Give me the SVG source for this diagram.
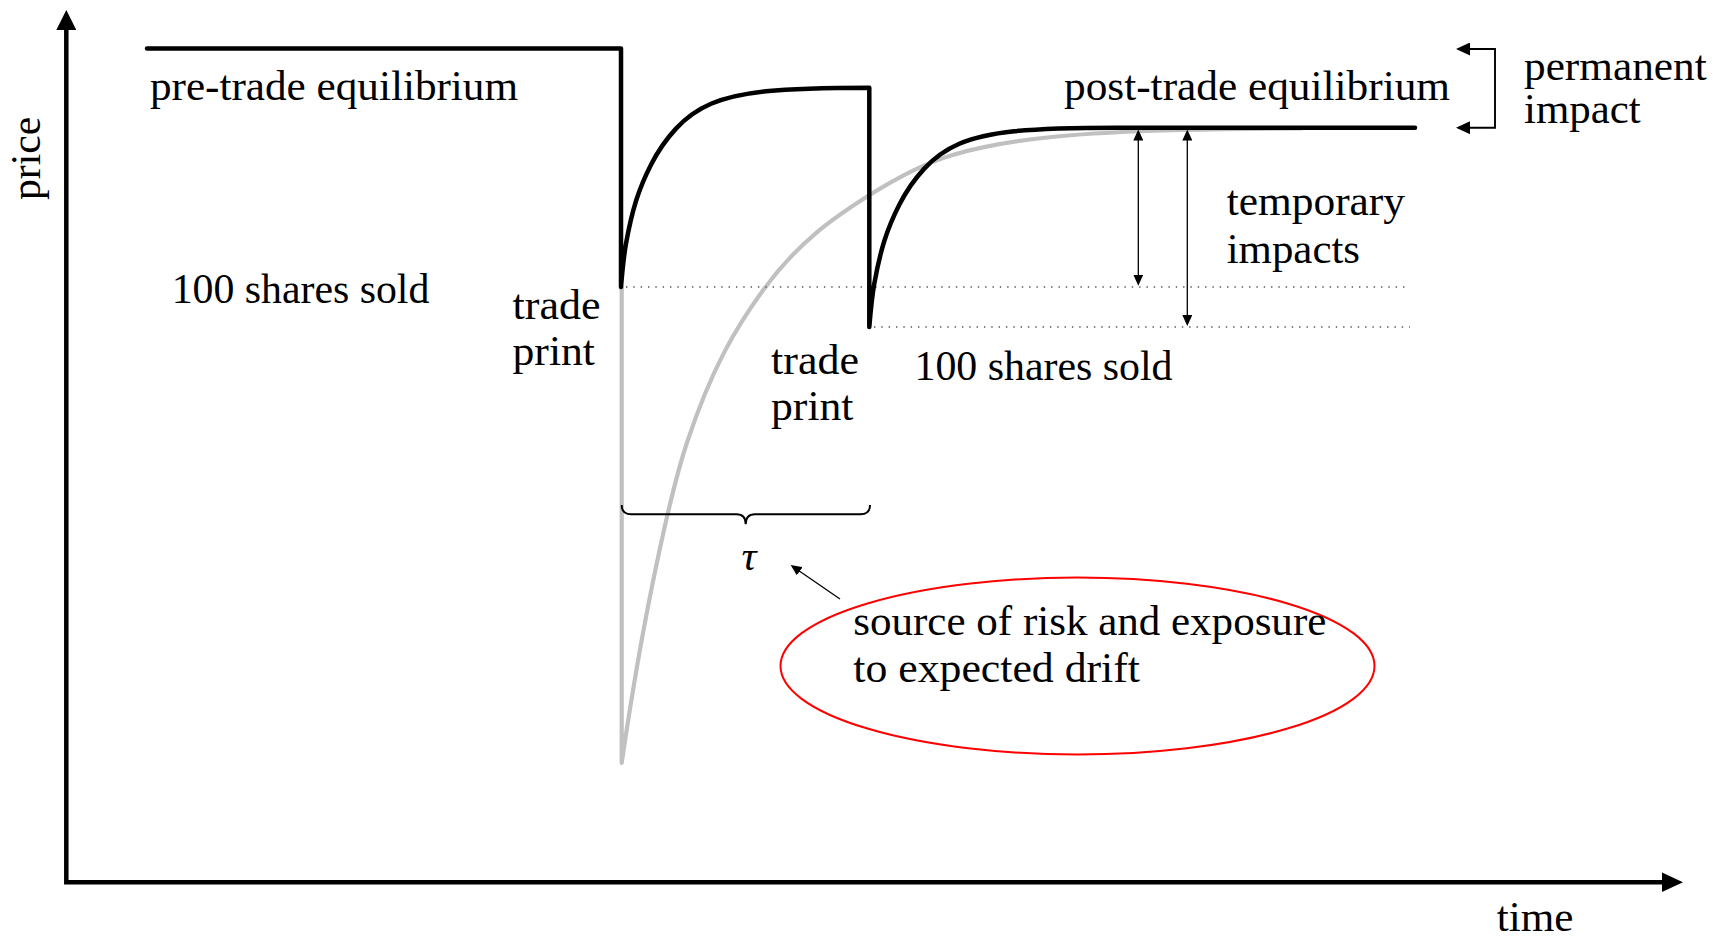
<svg xmlns="http://www.w3.org/2000/svg" width="1723" height="938" viewBox="0 0 1723 938">
<style>
.t{font-family:"Liberation Serif","Times New Roman",serif;font-size:42px;fill:#000}
.ax{fill:none;stroke:#000;stroke-width:4.5;stroke-linejoin:miter}
.price{fill:none;stroke:#000;stroke-width:4.5;stroke-linejoin:round;stroke-linecap:round}
.gray{fill:none;stroke:#c0c0c0;stroke-width:4.2;stroke-linejoin:round;stroke-linecap:round}
.dot{fill:none;stroke:#555;stroke-width:1.4;stroke-dasharray:1.4 5.93}
.thin{fill:none;stroke:#000;stroke-width:1.3}
.med{fill:none;stroke:#000;stroke-width:1.9}
.head{fill:#000}
</style>
<defs>
<marker id="arrSm" markerUnits="userSpaceOnUse" viewBox="0 0 11 10" refX="1" refY="5" markerWidth="11" markerHeight="10" orient="auto-start-reverse">
<path d="M0,0 L11,5 L0,10 Z" fill="#000"/>
</marker>
<marker id="arrMed" markerUnits="userSpaceOnUse" viewBox="0 0 14 13" refX="1" refY="6.5" markerWidth="14" markerHeight="13" orient="auto-start-reverse">
<path d="M0,0 L14,6.5 L0,13 Z" fill="#000"/>
</marker>
</defs>
<rect width="1723" height="938" fill="#fff"/>

<g id="axes">
<path class="ax" d="M66.3,29 V882.3 H1663"/>
<path class="head" d="M56.3,30 L66.3,10 L76.3,30 Z"/>
<path class="head" d="M1662,872.6 L1683,882.3 L1662,892 Z"/>
</g>

<g id="gray-curve">
<path class="gray" d="M621.7,287 V763 C631.7,694.7 641.7,637.4 651.7,587.9 C663.37,530.1 675.03,479 686.7,443.5 C712.03,366.5 737.37,325.8 762.7,290.8 C798.03,242 833.37,218.1 868.7,195.6 C896.37,178 924.03,163.5 951.7,155.2 C985.03,145.2 1018.37,140.4 1051.7,137 C1095.03,132.6 1138.37,131 1181.7,130 C1221.7,129 1261.7,128.56 1301.7,128.3"/>
</g>

<g id="guides">
<path class="dot" d="M626,287 H1410"/>
<path class="dot" d="M874,327 H1410"/>
</g>

<g id="price-curve">
<path class="price" d="M147,48.4 H621 V287 C622.67,267 624.33,253 626,243.7 C629.33,225 632.67,211.7 636,201 C641,185 646,174.5 651,164.7 C659.33,148.37 667.67,137.57 676,128.6 C687.67,116.04 699.33,108.85 711,103.8 C729.33,95.86 747.67,93.17 766,91.25 C800.33,87.7 834.67,87.7 869.3,87.7 V327 C870.97,307 872.63,293 874.3,283.7 C877.63,265 880.97,251.7 884.3,241 C889.3,225 894.3,214.5 899.3,204.7 C907.63,188.37 915.97,177.57 924.3,168.6 C935.97,156.04 947.63,148.85 959.3,143.8 C977.63,135.86 995.97,133.17 1014.3,131.25 C1048.63,127.7 1082.97,127.7 1117.3,127.7 H1415"/>
</g>

<g id="connectors">
<path class="thin" d="M1138.3,139.5 V275.7" marker-start="url(#arrSm)" marker-end="url(#arrSm)"/>
<path class="thin" d="M1187.3,139.5 V316" marker-start="url(#arrSm)" marker-end="url(#arrSm)"/>
<path class="med" d="M1469,49 H1495 V127.7 H1469" marker-start="url(#arrMed)" marker-end="url(#arrMed)"/>
<path class="thin" d="M840,599 L798.9,570.7" marker-end="url(#arrSm)"/>
<path class="med" d="M621.7,505 Q621.7,514.3 631,514.3 H736.5 Q745.7,514.3 745.7,524.3 Q745.7,514.3 755,514.3 H860.7 Q870,514.3 870,505"/>
</g>

<g id="risk-ellipse">
<ellipse cx="1077.5" cy="666" rx="297" ry="88.5" fill="none" stroke="#ff0000" stroke-width="2"/>
<text class="t" x="853.3" y="635" textLength="473" lengthAdjust="spacingAndGlyphs">source of risk and exposure</text>
<text class="t" x="853.3" y="681.7" textLength="286.7" lengthAdjust="spacingAndGlyphs">to expected drift</text>
</g>

<g id="label-pre">
<text class="t" x="150" y="100" textLength="368" lengthAdjust="spacingAndGlyphs">pre-trade equilibrium</text>
</g>
<g id="label-post">
<text class="t" x="1064" y="100" textLength="386" lengthAdjust="spacingAndGlyphs">post-trade equilibrium</text>
</g>
<g id="label-sold1">
<text class="t" x="171.7" y="302.7" textLength="257.6" lengthAdjust="spacingAndGlyphs">100 shares sold</text>
</g>
<g id="label-print1">
<text class="t" x="512.5" y="318.5" textLength="88" lengthAdjust="spacingAndGlyphs">trade</text>
<text class="t" x="512.5" y="364.5" textLength="82.5" lengthAdjust="spacingAndGlyphs">print</text>
</g>
<g id="label-print2">
<text class="t" x="771" y="374" textLength="88" lengthAdjust="spacingAndGlyphs">trade</text>
<text class="t" x="771" y="420" textLength="82.5" lengthAdjust="spacingAndGlyphs">print</text>
</g>
<g id="label-sold2">
<text class="t" x="914.5" y="380" textLength="258" lengthAdjust="spacingAndGlyphs">100 shares sold</text>
</g>
<g id="label-temporary">
<text class="t" x="1226.7" y="215" textLength="178.3" lengthAdjust="spacingAndGlyphs">temporary</text>
<text class="t" x="1226.7" y="262.7" textLength="133.3" lengthAdjust="spacingAndGlyphs">impacts</text>
</g>
<g id="label-permanent">
<text class="t" x="1524" y="79.5" textLength="182.7" lengthAdjust="spacingAndGlyphs">permanent</text>
<text class="t" x="1524" y="123" textLength="116.7" lengthAdjust="spacingAndGlyphs">impact</text>
</g>
<g id="label-tau">
<text class="t" x="749" y="570" text-anchor="middle" font-style="italic">τ</text>
</g>
<g id="label-time">
<text class="t" x="1496.7" y="931" textLength="76.7" lengthAdjust="spacingAndGlyphs">time</text>
</g>
<g id="label-price">
<text class="t" transform="translate(40,200) rotate(-90)" x="0" y="0" textLength="83.3" lengthAdjust="spacingAndGlyphs">price</text>
</g>
</svg>
